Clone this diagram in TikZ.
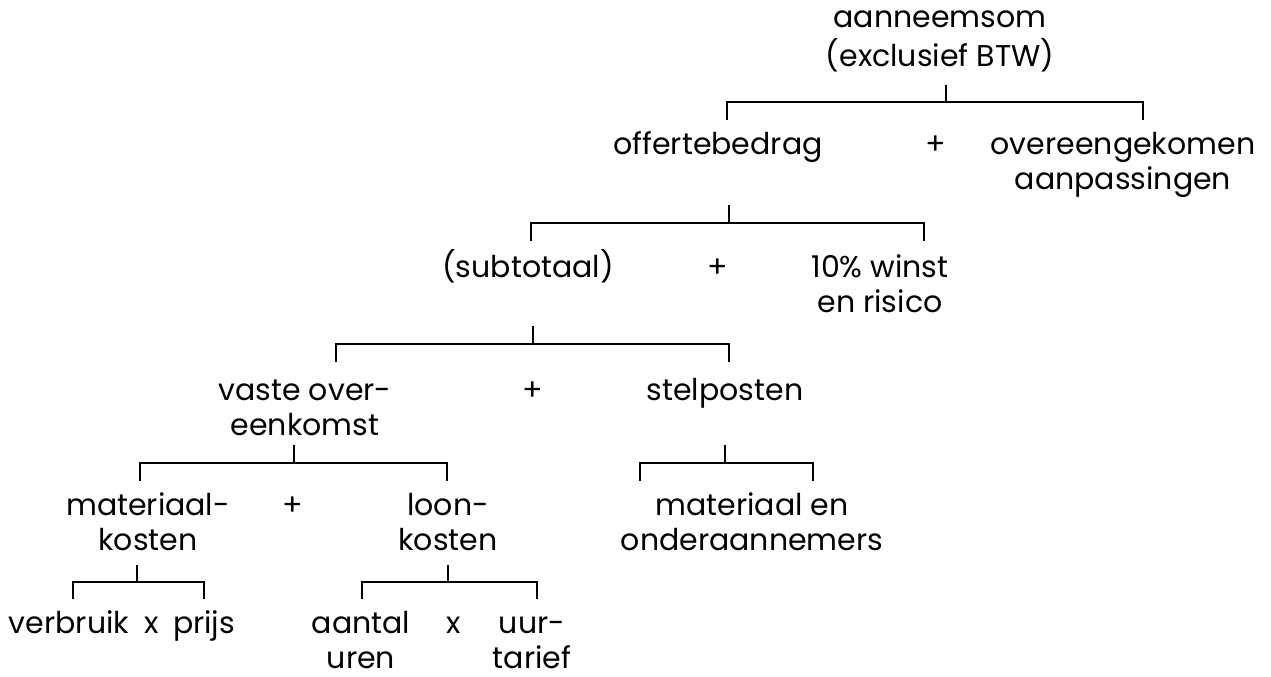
\documentclass[tikz,border=0pt]{standalone}
\usepackage{fontspec}
\setmainfont{Poppins}
\begin{document}
\begin{tikzpicture}[x=0.75pt,y=-0.75pt,
  lbl/.style={anchor=base,inner sep=0pt,font=\fontsize{22.5}{26.25}\selectfont},
  op/.style={anchor=base,inner sep=0pt,font=\fontsize{22.5}{26.25}\selectfont},
  brk/.style={draw=black,line width=2.2pt,line join=miter}]
\useasboundingbox (0,0) rectangle (1271,677);
\newcommand{\ml}[1]{\begin{tabular}[t]{@{}c@{}}#1\end{tabular}}
% texts
\node[lbl] (top) at (940,28) {\ml{aanneemsom\\(exclusief BTW)}};
\node[lbl] (off) at (718,155) {offertebedrag};
\node[op] (p1) at (936,155) {+};
\node[lbl] (ovk) at (1123,155) {\ml{overeengekomen\\aanpassingen}};
\node[lbl] (sub) at (528,278) {(subtotaal)};
\node[op] (p2) at (718,278) {+};
\node[lbl] (win) at (880,278) {\ml{10\% winst\\en risico}};
\node[lbl] (vas) at (305,400) {\ml{vaste over-\\eenkomst}};
\node[op] (p3) at (533,400) {+};
\node[lbl] (stp) at (725,400) {stelposten};
\node[lbl] (mat) at (148,515) {\ml{materiaal-\\kosten}};
\node[op] (p4) at (293,515) {+};
\node[lbl] (loo) at (448,515) {\ml{loon-\\kosten}};
\node[lbl] (mae) at (752,515) {\ml{materiaal en\\onderaannemers}};
\node[lbl] (ver) at (69,633) {verbruik};
\node[op] (x1) at (152,633) {x};
\node[lbl] (pri) at (204,633) {prijs};
\node[lbl] (aan) at (361,633) {\ml{aantal\\uren}};
\node[op] (x2) at (454,633) {x};
\node[lbl] (uur) at (532,633) {\ml{uur-\\tarief}};
% bracket coordinates
\coordinate (t1) at (946,85);  \coordinate (m1) at (946,102);
\coordinate (a1) at (727,120); \coordinate (b1) at (1143,120);
\coordinate (t2) at (729,205); \coordinate (m2) at (729,223);
\coordinate (a2) at (531,241); \coordinate (b2) at (924,241);
\coordinate (t3) at (533,326); \coordinate (m3) at (533,344);
\coordinate (a3) at (336,362); \coordinate (b3) at (729,362);
\coordinate (t4) at (294,445); \coordinate (m4) at (294,463);
\coordinate (a4) at (140,481); \coordinate (b4) at (447,481);
\coordinate (t5) at (725,445); \coordinate (m5) at (725,463);
\coordinate (a5) at (640,481); \coordinate (b5) at (813,481);
\coordinate (t6) at (137,565); \coordinate (m6) at (137,582);
\coordinate (a6) at (73,599);  \coordinate (b6) at (204,599);
\coordinate (t7) at (448,565); \coordinate (m7) at (448,582);
\coordinate (a7) at (362,599); \coordinate (b7) at (537,599);
\foreach \i in {1,...,7}{
  \draw[brk] (a\i) |- (m\i) -| (b\i);
  \draw[brk] (m\i) -- (t\i);
}
\end{tikzpicture}
\end{document}
